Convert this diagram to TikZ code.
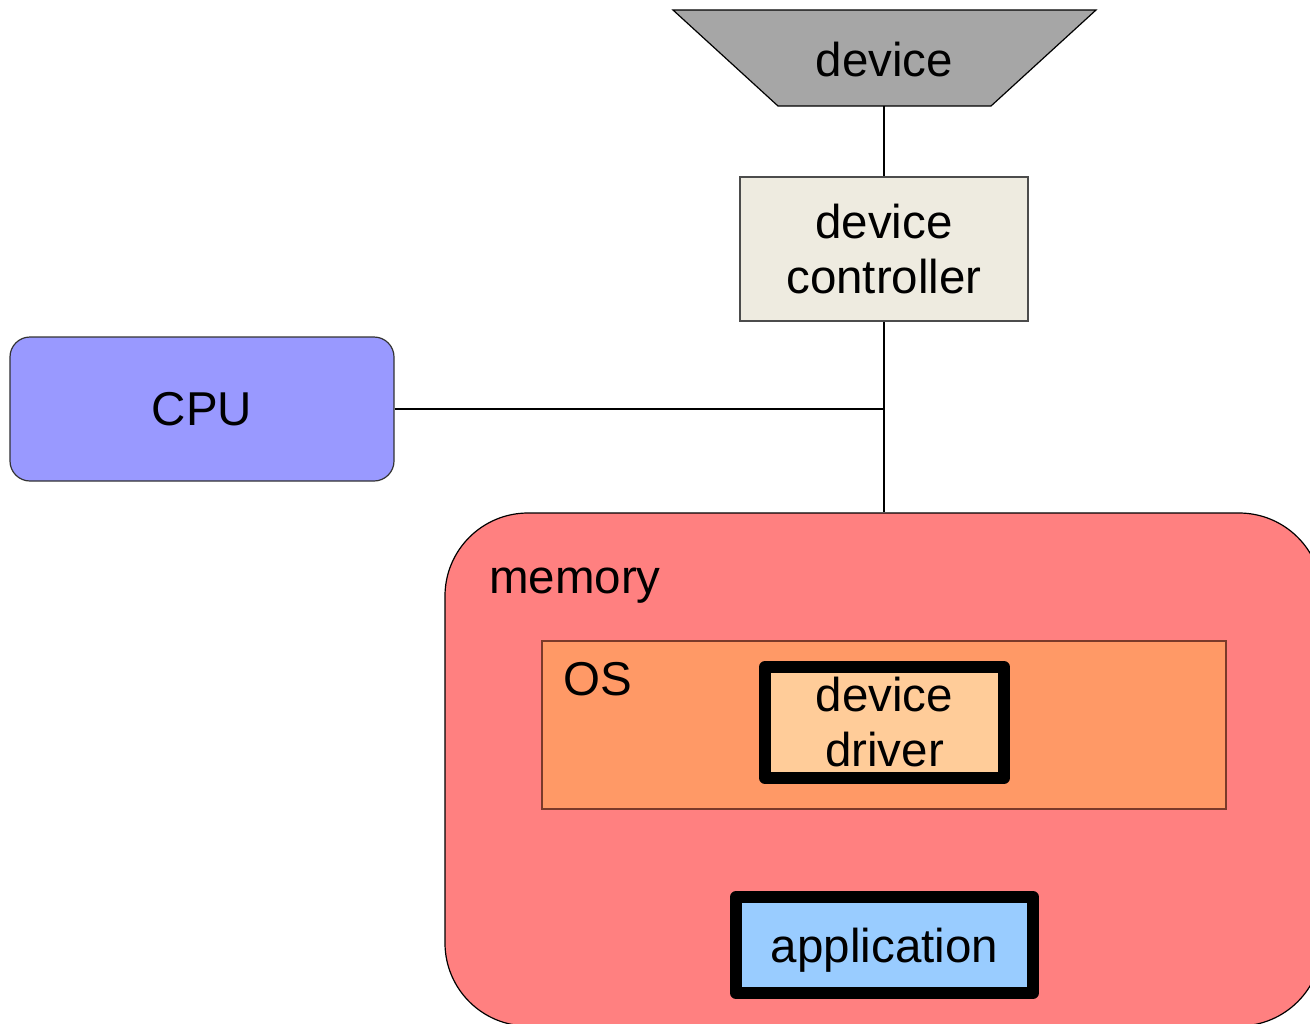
\documentclass[tikz,border=0pt]{standalone}
\usepackage{fontspec}
\setmainfont{Liberation Sans}
\definecolor{devgray}{HTML}{A6A6A6}
\definecolor{ctrlfill}{HTML}{EEEBE0}
\definecolor{cpufill}{HTML}{9999FF}
\definecolor{memfill}{HTML}{FF8080}
\definecolor{osfill}{HTML}{FF9966}
\definecolor{drvfill}{HTML}{FFCC99}
\definecolor{appfill}{HTML}{99CCFF}
\definecolor{osline}{HTML}{7A3A2A}
\tikzset{
  big/.style={font=\fontsize{47.5bp}{55bp}\selectfont, text=black},
  thin/.style={line width=1.2bp},
  box/.style={big, thin, draw, inner sep=0pt, align=center},
  thickbox/.style={big, draw=black, line width=12bp, line join=round, inner sep=0pt, align=center},
  wire/.style={thin, draw=black},
}
\begin{document}
\begin{tikzpicture}[x=1bp,y=-1bp]
\useasboundingbox (0,0) rectangle (1310,1023);
\clip (0,0) rectangle (1310,1023);

% memory
\node[box, draw=black, fill=memfill, rounded corners=83bp,
      minimum width=877bp, minimum height=513bp] (mem) at (883.5,769.5) {};
\node[big, anchor=base west, inner sep=0pt] (memlbl) at (489,593) {memory};

% OS
\node[box, draw=osline, fill=osfill, minimum width=684bp, minimum height=168bp] (os) at (884,725) {};
\node[big, anchor=base west, inner sep=0pt] (oslbl) at (563,695) {OS};

% device driver
\node[thickbox, fill=drvfill, minimum width=239bp, minimum height=111bp] (drv) at (884.5,722.5) {device\\driver};

% application
\node[thickbox, fill=appfill, text depth=0pt, minimum width=297bp, minimum height=96bp] (app) at (884.5,945) {application};

% device
\draw[thin, fill=devgray] (673,10) -- (1096,10) -- (991,106) -- (778,106) -- cycle;
\node[big, anchor=base, inner sep=0pt] (dev) at (884.5,76) {device};
\coordinate (devb) at (884,106);

% device controller
\node[box, draw=black!70, fill=ctrlfill, minimum width=288bp, minimum height=144bp] (ctrl) at (884,249) {device\\controller};

% CPU
\node[box, draw=black!80, fill=cpufill, rounded corners=20bp,
      minimum width=384bp, minimum height=144bp] (cpu) at (202,409) {CPU};

\coordinate (junc) at (884,409);

\draw[wire] (devb) -- (ctrl.north);
\draw[wire] (ctrl.south) -- (ctrl.south |- mem.north);
\draw[wire] (cpu.east) -- (junc);
\end{tikzpicture}
\end{document}
